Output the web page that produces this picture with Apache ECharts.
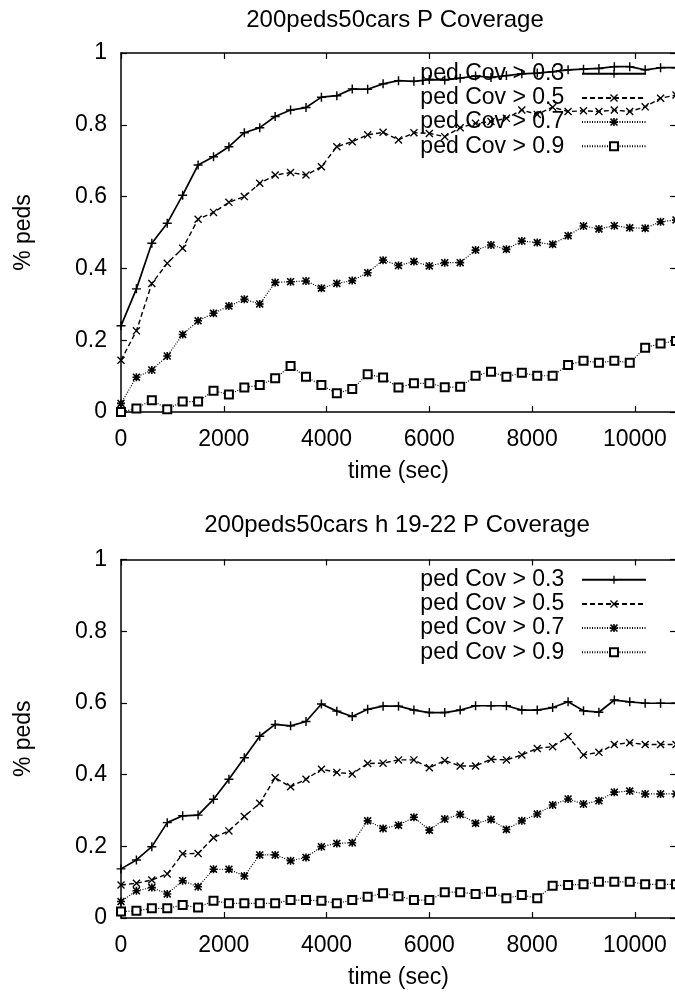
<style>
  body,
  html {
    overflow: hidden;
    width: 100%;
    height: 100%;
    margin: 0;
    padding: 0;
    background: #fff;
  }
  .chart-wrapper {
    position: relative;
    width: 675px;
    height: 993px;
  }
</style>

<div id="chart-wrapper" class="chart-wrapper"></div>

<script src="https://cdn.jsdelivr.net/npm/echarts@6/dist/echarts.min.js"></script>

<script>
  // sample times (sec), one point every 300 s
  const times = [
    0, 300, 600, 900, 1200, 1500, 1800, 2100, 2400, 2700, 3000, 3300, 3600,
    3900, 4200, 4500, 4800, 5100, 5400, 5700, 6000, 6300, 6600, 6900, 7200,
    7500, 7800, 8100, 8400, 8700, 9000, 9300, 9600, 9900, 10200, 10500, 10800,
  ];
  const seriesNames = [
    "ped Cov > 0.3",
    "ped Cov > 0.5",
    "ped Cov > 0.7",
    "ped Cov > 0.9",
  ];
  const chartTitles = [
    "200peds50cars P Coverage",
    "200peds50cars h 19-22 P Coverage",
  ];

  // top chart
  const topCov03 = [
    0.24, 0.343, 0.47, 0.526, 0.604, 0.688, 0.711, 0.739, 0.778, 0.792, 0.823,
    0.841, 0.848, 0.877, 0.881, 0.9, 0.899, 0.914, 0.923, 0.921, 0.926, 0.925,
    0.93, 0.936, 0.932, 0.937, 0.942, 0.944, 0.948, 0.953, 0.955, 0.957, 0.962,
    0.962, 0.953, 0.959, 0.959,
  ];
  const topCov05 = [
    0.144, 0.226, 0.358, 0.414, 0.456, 0.537, 0.556, 0.584, 0.6, 0.637, 0.66,
    0.667, 0.66, 0.683, 0.739, 0.753, 0.772, 0.779, 0.758, 0.778, 0.776, 0.767,
    0.792, 0.804, 0.809, 0.818, 0.841, 0.829, 0.849, 0.837, 0.839, 0.837, 0.841,
    0.837, 0.85, 0.874, 0.883,
  ];
  const topCov07 = [
    0.024, 0.097, 0.117, 0.156, 0.216, 0.254, 0.275, 0.295, 0.314, 0.301, 0.361,
    0.363, 0.365, 0.345, 0.358, 0.366, 0.388, 0.423, 0.408, 0.419, 0.407, 0.416,
    0.416, 0.451, 0.465, 0.453, 0.476, 0.472, 0.467, 0.491, 0.518, 0.51, 0.519,
    0.513, 0.512, 0.53, 0.535,
  ];
  const topCov09 = [
    0.0, 0.01, 0.033, 0.008, 0.029, 0.029, 0.059, 0.049, 0.068, 0.075, 0.094,
    0.128, 0.098, 0.075, 0.052, 0.064, 0.105, 0.096, 0.068, 0.08, 0.08, 0.069,
    0.07, 0.101, 0.112, 0.098, 0.109, 0.101, 0.101, 0.131, 0.143, 0.137, 0.143,
    0.137, 0.179, 0.191, 0.198,
  ];

  // bottom chart (h 19-22)
  const botCov03 = [
    0.137, 0.162, 0.199, 0.266, 0.285, 0.287, 0.331, 0.387, 0.447, 0.507, 0.54,
    0.536, 0.548, 0.597, 0.577, 0.562, 0.582, 0.591, 0.591, 0.58, 0.573, 0.573,
    0.58, 0.592, 0.592, 0.592, 0.58, 0.58, 0.587, 0.603, 0.578, 0.574, 0.608,
    0.603, 0.599, 0.599, 0.599,
  ];
  const botCov05 = [
    0.092, 0.097, 0.106, 0.123, 0.179, 0.18, 0.224, 0.243, 0.283, 0.32, 0.391,
    0.366, 0.387, 0.415, 0.406, 0.402, 0.431, 0.432, 0.441, 0.441, 0.419, 0.439,
    0.424, 0.424, 0.443, 0.441, 0.455, 0.473, 0.478, 0.506, 0.455, 0.462, 0.484,
    0.489, 0.484, 0.484, 0.484,
  ];
  const botCov07 = [
    0.046, 0.076, 0.085, 0.067, 0.104, 0.087, 0.136, 0.136, 0.117, 0.176, 0.176,
    0.16, 0.169, 0.199, 0.208, 0.21, 0.271, 0.25, 0.259, 0.281, 0.245, 0.276,
    0.289, 0.264, 0.275, 0.247, 0.271, 0.29, 0.315, 0.332, 0.318, 0.327, 0.351,
    0.354, 0.346, 0.346, 0.346,
  ];
  const botCov09 = [
    0.018, 0.02, 0.027, 0.027, 0.036, 0.029, 0.048, 0.041, 0.041, 0.041, 0.041,
    0.05, 0.05, 0.048, 0.041, 0.05, 0.059, 0.069, 0.061, 0.05, 0.05, 0.072,
    0.072, 0.067, 0.073, 0.055, 0.064, 0.055, 0.09, 0.092, 0.094, 0.101, 0.101,
    0.101, 0.094, 0.094, 0.094,
  ];

  const FONT = "Liberation Sans";
  const FS = 23;

  // gnuplot-ish point types: +, x, *, box
  const plusSym = "path://M4.2,0H5.8V4.2H10V5.8H5.8V10H4.2V5.8H0V4.2H4.2Z";
  const crossSym =
    "path://M0,1.2L1.2,0L10,8.8L8.8,10Z M8.8,0L10,1.2L1.2,10L0,8.8Z";
  const starSym =
    "path://M4,0H6V4H10V6H6V10H4V6H0V4H4Z M0,1.4L1.4,0L10,8.6L8.6,10Z M8.6,0L10,1.4L1.4,10L0,8.6Z";

  const styles = [
    { symbol: plusSym, size: 9, line: "solid", width: 1.7 },
    { symbol: crossSym, size: 8, line: [5, 3], width: 1.4 },
    { symbol: starSym, size: 8, line: [1, 1.5], width: 1.2 },
    { symbol: "emptyRect", size: 8, line: [1, 1.5], width: 1.2 },
  ];

  const grids = [
    { left: 121, top: 53, width: 555, height: 359, outerBoundsMode: "none" },
    {
      left: 121,
      top: 559.5,
      width: 555,
      height: 358.5,
      outerBoundsMode: "none",
    },
  ];

  const axisLineStyle = { color: "#000", width: 1.5 };

  const makeX = (gridIndex, position, main) => ({
    gridIndex,
    type: "value",
    position,
    min: 0,
    max: 10800,
    interval: 2000,
    axisLine: { show: true, onZero: false, lineStyle: axisLineStyle },
    axisTick: {
      show: true,
      inside: true,
      length: 6,
      lineStyle: { color: "#000", width: 1.2 },
    },
    axisLabel: main
      ? {
          show: true,
          margin: 8,
          showMaxLabel: false,
          color: "#000",
          fontFamily: FONT,
          fontSize: FS,
          formatter: (v) => String(v),
        }
      : { show: false },
    splitLine: { show: false },
    name: main ? "time (sec)" : "",
    nameLocation: "middle",
    nameGap: 40,
    nameMoveOverlap: false,
    nameTextStyle: { color: "#000", fontFamily: FONT, fontSize: FS },
  });

  const makeY = (gridIndex, position, main) => ({
    gridIndex,
    type: "value",
    position,
    min: 0,
    max: 1,
    interval: 0.2,
    axisLine: { show: true, onZero: false, lineStyle: axisLineStyle },
    axisTick: {
      show: true,
      inside: true,
      length: 6,
      lineStyle: { color: "#000", width: 1.2 },
    },
    axisLabel: main
      ? {
          show: true,
          margin: 14,
          color: "#000",
          fontFamily: FONT,
          fontSize: FS,
          formatter: (v) => String(v),
        }
      : { show: false },
    splitLine: { show: false },
    name: main ? "% peds" : "",
    nameLocation: "middle",
    nameGap: 78,
    nameMoveOverlap: false,
    nameTextStyle: { color: "#000", fontFamily: FONT, fontSize: FS },
  });

  const makeSeries = (idx, values, gridIndex) => {
    const s = styles[idx];
    return {
      name: seriesNames[idx],
      type: "line",
      xAxisIndex: gridIndex * 2,
      yAxisIndex: gridIndex * 2,
      data: times.map((t, i) => [t, values[i]]),
      symbol: s.symbol,
      symbolSize: s.size,
      showSymbol: true,
      showAllSymbol: true,
      lineStyle: { color: "#000", width: s.width, type: s.line },
      itemStyle: {
        color: "#000",
        borderColor: "#000",
        borderWidth: s.symbol === "emptyRect" ? 1.6 : 0,
      },
      emphasis: { disabled: true },
      silent: true,
      animation: false,
      z: 2 + idx,
    };
  };

  const makeLegend = (top) => ({
    orient: "vertical",
    align: "right",
    right: 28,
    top,
    padding: 0,
    // rows are packed tightly like gnuplot's key
    itemGap: -15.5,
    itemWidth: 64,
    itemHeight: 10,
    selectedMode: false,
    data: seriesNames,
    // trailing spaces widen the gap between label and key line
    formatter: (name) => name + "  ",
    textStyle: {
      color: "#000",
      fontFamily: FONT,
      fontSize: FS,
    },
  });

  const titleText = (text, x, y) => ({
    type: "text",
    x,
    y,
    style: {
      text,
      font: `24px "${FONT}"`,
      fill: "#000",
      align: "center",
      verticalAlign: "middle",
      textAlign: "center",
      textVerticalAlign: "middle",
    },
  });

  const chartDom = document.getElementById("chart-wrapper");
  const chart = echarts.init(chartDom, null, { width: 675, height: 993 });

  const option = {
    backgroundColor: "#fff",
    animation: false,
    textStyle: { fontFamily: FONT, color: "#000" },
    grid: grids,
    xAxis: [
      makeX(0, "bottom", true),
      makeX(0, "top", false),
      makeX(1, "bottom", true),
      makeX(1, "top", false),
    ],
    yAxis: [
      makeY(0, "left", true),
      makeY(0, "right", false),
      makeY(1, "left", true),
      makeY(1, "right", false),
    ],
    legend: [makeLegend(54), makeLegend(560)],
    graphic: [
      titleText(chartTitles[0], 395, 20),
      titleText(chartTitles[1], 397, 525),
    ],
    series: [
      makeSeries(0, topCov03, 0),
      makeSeries(1, topCov05, 0),
      makeSeries(2, topCov07, 0),
      makeSeries(3, topCov09, 0),
      makeSeries(0, botCov03, 1),
      makeSeries(1, botCov05, 1),
      makeSeries(2, botCov07, 1),
      makeSeries(3, botCov09, 1),
    ],
  };

  chart.setOption(option);
</script>
